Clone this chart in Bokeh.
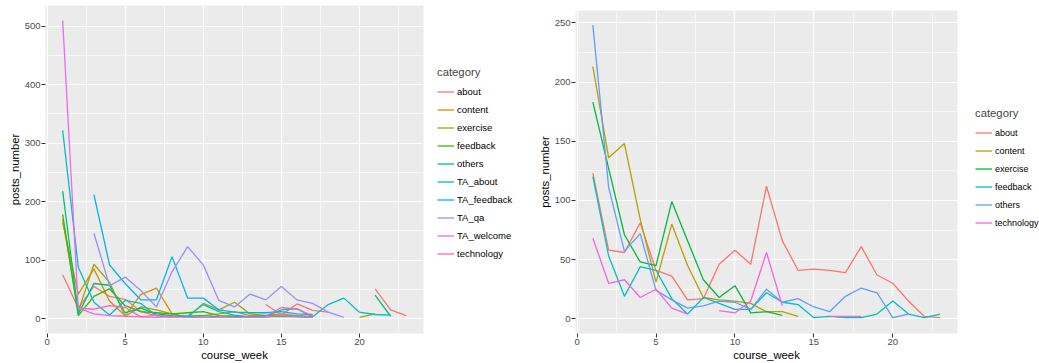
from bokeh.plotting import figure
from bokeh.models import FixedTicker, Legend, LegendItem, ColumnDataSource, Range1d, Spacer
from bokeh.layouts import row, column
from bokeh.embed import file_html
from bokeh.resources import INLINE

nan = float("nan")
weeks = list(range(1, 24))

# ---------------- left chart data (10 categories) ----------------
left_categories = ["about", "content", "exercise", "feedback", "others",
                   "TA_about", "TA_feedback", "TA_qa", "TA_welcome", "technology"]
left_colors = ["#F8766D", "#D89000", "#A3A500", "#39B600", "#00BF7D",
               "#00BFC4", "#00B0F6", "#9590FF", "#E76BF3", "#FF62BC"]
l_about = [75, 18, 55, 38, 33, 12, 5, 4, nan, nan, nan, nan, nan, 24, 6, 25, 14, 11, nan, nan, 51, 15, 5]
l_content = [165, 42, 85, 30, 5, 41, 52, 8, 3, 5, 8, 12, 5, 6, 8, 5, 3, nan, nan, nan, nan, nan, nan]
l_exercise = [170, 12, 93, 62, 4, 20, 15, 8, 2, 26, 15, 28, 8, 5, 5, 5, 3, nan, nan, 2, 8, nan, nan]
l_feedback = [178, 5, 38, 51, 22, 12, 10, 8, 10, 12, 5, 4, 3, 4, 5, 4, 3, nan, nan, nan, nan, nan, nan]
l_others = [218, 8, 60, 57, 10, 18, 8, 5, 4, 5, 3, 2, 2, 3, 4, 3, 2, nan, nan, nan, 40, 4, nan]
l_ta_about = [322, 88, 28, 6, 31, 26, 5, 3, 4, 24, 12, 6, 3, 4, 15, 17, 3, 24, 35, 11, 7, 6, nan]
l_ta_feedback = [nan, nan, 212, 92, 60, 32, 32, 106, 35, 35, 15, 11, 10, 10, 12, 8, 7, nan, nan, nan, nan, nan, nan]
l_ta_qa = [nan, nan, 146, 56, 71, 48, 20, 80, 123, 92, 31, 20, 42, 32, 55, 32, 26, 11, 2, nan, nan, nan, nan]
l_ta_welcome = [510, 18, 8, 5, 4, 3, 2, 3, 2, 2, 2, 2, 2, 3, 5, 4, 2, nan, nan, nan, nan, nan, nan]
l_technology = [nan, 18, 16, 22, 19, 3, 6, 3, nan, nan, nan, nan, nan, 4, 19, 16, 5, nan, nan, nan, nan, nan, nan]
left_series = [l_about, l_content, l_exercise, l_feedback, l_others,
               l_ta_about, l_ta_feedback, l_ta_qa, l_ta_welcome, l_technology]

# ---------------- right chart data (6 categories) ----------------
right_categories = ["about", "content", "exercise", "feedback", "others", "technology"]
right_colors = ["#F8766D", "#B79F00", "#00BA38", "#00BFC4", "#619CFF", "#F564E3"]
r_about = [123, 58, 56, 81, 41, 36, 16, 17, 46, 58, 46, 112, 66, 41, 42, 41, 39, 61, 37, 30, 15, 2, 1]
r_content = [213, 136, 148, 84, 31, 80, 45, 18, 16, 15, 13, 6, 6, 2, nan, nan, nan, nan, nan, nan, nan, nan, nan]
r_exercise = [183, 127, 71, 48, 45, 99, 66, 33, 18, 28, 5, 6, 3, nan, nan, nan, nan, nan, nan, nan, nan, nan, nan]
r_feedback = [120, 53, 19, 44, 41, 17, 4, 18, 13, 8, 8, 22, 14, 12, 1, 2, 1, 1, 4, 15, 4, 1, 4]
r_others = [248, 111, 57, 72, 24, 16, 9, 11, 15, 14, 8, 25, 14, 17, 10, 6, 19, 26, 22, 1, 4, nan, nan]
r_technology = [68, 30, 33, 18, 25, 9, 4, nan, 7, 5, 15, 56, 11, nan, nan, 2, 2, 2, nan, nan, nan, nan, nan]
right_series = [r_about, r_content, r_exercise, r_feedback, r_others, r_technology]

x_ticks = [0, 5, 10, 15, 20]
x_minor = [2.5, 7.5, 12.5, 17.5, 22.5]
left_y_ticks = [0, 100, 200, 300, 400, 500]
left_y_minor = [50, 150, 250, 350, 450]
right_y_ticks = [0, 50, 100, 150, 200, 250]
right_y_minor = [25, 75, 125, 175, 225]

FONT = "Liberation Sans"
H = 363


def make_panel(series, colors, yticks, yminor, ymax, w, h, mb_left, mb_top, mb_right, mb_bottom):
    y_pad = ymax * 0.05
    p = figure(width=w, height=h, output_backend="svg", toolbar_location=None,
               x_range=Range1d(1 - 1.1, 23 + 1.1), y_range=Range1d(-y_pad, ymax + y_pad),
               min_border_left=mb_left, min_border_top=mb_top, min_border_right=mb_right,
               min_border_bottom=mb_bottom)
    p.background_fill_color = "#EBEBEB"
    p.border_fill_color = "white"
    p.outline_line_color = None

    p.xaxis.ticker = FixedTicker(ticks=x_ticks, minor_ticks=x_minor)
    p.yaxis.ticker = FixedTicker(ticks=yticks, minor_ticks=yminor)
    for g in (p.xgrid, p.ygrid):
        g.grid_line_color = "white"
        g.grid_line_width = 1.2
        g.minor_grid_line_color = "white"
        g.minor_grid_line_width = 0.6
    for ax in (p.xaxis, p.yaxis):
        ax.axis_line_color = None
        ax.major_tick_line_color = "#333333"
        ax.major_tick_out = 4
        ax.major_tick_in = 0
        ax.minor_tick_line_color = None
        ax.major_label_text_color = "#4D4D4D"
        ax.major_label_text_font = FONT
        ax.major_label_text_font_size = "9.5px"
        ax.major_label_standoff = 1
        ax.axis_label_text_font = FONT
        ax.axis_label_text_font_size = "11.3px"
        ax.axis_label_text_font_style = "normal"
        ax.axis_label_text_color = "black"
        ax.axis_label_standoff = 1
    p.xaxis.axis_label = "course_week"
    p.yaxis.axis_label = "posts_number"

    for col, vals in zip(colors, series):
        src = ColumnDataSource(dict(x=weeks, y=vals))
        p.line("x", "y", source=src, line_color=col, line_width=1.3)
    return p


def make_legend(cats, colors, w, loc, label_size):
    lf = figure(width=w, height=H, output_backend="svg", toolbar_location=None,
                x_axis_type=None, y_axis_type=None,
                x_range=Range1d(0, 1), y_range=Range1d(0, 1),
                min_border=0, min_border_left=0, min_border_right=0,
                min_border_top=0, min_border_bottom=0)
    lf.outline_line_color = None
    lf.background_fill_color = "white"
    lf.border_fill_color = "white"
    lf.xgrid.visible = False
    lf.ygrid.visible = False
    items = []
    for name, col in zip(cats, colors):
        # legend-only renderer: its data lies outside the visible range
        r = lf.line(x=[-5, -4], y=[-5, -5], line_color=col, line_width=1.3)
        items.append(LegendItem(label=name, renderers=[r]))
    leg = Legend(items=items, title="category", location=loc,
                 margin=0, padding=10, spacing=1,
                 glyph_height=17, glyph_width=17, label_height=17, label_standoff=3,
                 label_text_font=FONT, label_text_font_size=label_size, label_text_color="black",
                 title_text_font=FONT, title_text_font_size="11.3px", title_text_font_style="normal",
                 title_standoff=5, border_line_color=None, background_fill_alpha=0)
    lf.add_layout(leg)
    return lf


p1 = make_panel(left_series, left_colors, left_y_ticks, left_y_minor, 510, 425, H, 45, 5, 2, 30)
leg1 = make_legend(left_categories, left_colors, 95, (12, 101), "9.5px")
p2 = make_panel(right_series, right_colors, right_y_ticks, right_y_minor, 248, 440, H - 5, 55, 5, 3, 29)
leg2 = make_legend(right_categories, right_colors, 79, (15, 132), "9px")

p = row(column(p1), leg1, column(Spacer(width=440, height=5), p2), leg2)
open("out.html", "w").write(file_html(p, INLINE))
